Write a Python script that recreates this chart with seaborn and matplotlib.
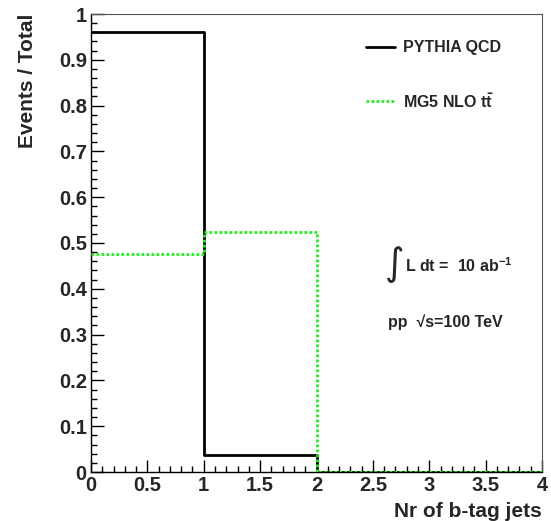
import numpy as np
import pandas as pd
import matplotlib
matplotlib.use("Agg")
import matplotlib.pyplot as plt
from matplotlib.ticker import MultipleLocator
import seaborn as sns

# ---- data ----
bin_edges = [0, 1, 2, 3, 4]
bin_centers = [0.5, 1.5, 2.5, 3.5]
qcd_frac = [0.961, 0.037, 0.0, 0.0]
ttbar_frac = [0.477, 0.523, 0.0, 0.0]
series_names = ["PYTHIA QCD", r"MG5 NLO $t\bar{t}$"]
x_label = "Nr of b-tag jets"
y_label = "Events / Total"

sns.set_style("ticks")
plt.rcParams['font.family'] = ['Liberation Sans', 'DejaVu Sans']
plt.rcParams['font.weight'] = 'bold'
plt.rcParams['mathtext.fontset'] = 'custom'
plt.rcParams['mathtext.rm'] = 'Liberation Sans:bold'
plt.rcParams['mathtext.it'] = 'Liberation Sans:bold'
plt.rcParams['mathtext.bf'] = 'Liberation Sans:bold'

fig = plt.figure(figsize=(5.51, 5.21), dpi=100)
ax = fig.add_axes([91/551, 1-472/521, (542-91)/551, (472-14)/521])

df = pd.DataFrame({"x": bin_centers, "qcd": qcd_frac, "tt": ttbar_frac})
green = "#22ee22"
dots = (0, (1.0, 0.8))
sns.histplot(data=df, x="x", weights="tt", bins=bin_edges, element="step", fill=False,
             color=green, linewidth=2.0, linestyle=dots, ax=ax, zorder=3)
sns.histplot(data=df, x="x", weights="qcd", bins=bin_edges, element="step", fill=False,
             color="black", linewidth=2.0, ax=ax, zorder=2)

ax.set_xlim(0, 4)
ax.set_ylim(0, 1)
ax.xaxis.set_major_locator(MultipleLocator(0.5))
ax.xaxis.set_minor_locator(MultipleLocator(0.1))
ax.yaxis.set_major_locator(MultipleLocator(0.1))
ax.yaxis.set_minor_locator(MultipleLocator(0.02))
ax.xaxis.set_major_formatter(matplotlib.ticker.FuncFormatter(lambda v, p: f"{v:g}"))
ax.yaxis.set_major_formatter(matplotlib.ticker.FuncFormatter(lambda v, p: f"{v:g}"))
ax.tick_params(which="both", direction="in", top=False, right=False, color="black", width=1)
ax.tick_params(which="major", length=9, labelsize=14.5, pad=3)
ax.tick_params(which="minor", length=4.5)
for lab in ax.get_xticklabels() + ax.get_yticklabels():
    lab.set_fontweight("bold")

for s in ["left", "bottom"]:
    ax.spines[s].set_color("black"); ax.spines[s].set_linewidth(1.0)
for s in ["top", "right"]:
    ax.spines[s].set_visible(True); ax.spines[s].set_color("#555555"); ax.spines[s].set_linewidth(0.8)

ax.set_xlabel(x_label, fontsize=15, fontweight="bold", loc="right", labelpad=5)
ax.set_ylabel(y_label, fontsize=15, fontweight="bold", loc="top", labelpad=16)

# legend (manual, ROOT-like)
W, H = 551, 521
def fx(px): return px / W
def fy(py): return 1 - py / H
fig.add_artist(plt.Line2D([fx(366), fx(395)], [fy(47), fy(47)], color="black", lw=2))
fig.text(fx(403), fy(47), series_names[0], fontsize=11.5, fontweight="bold", va="center")
fig.add_artist(plt.Line2D([fx(366), fx(395)], [fy(101), fy(101)], color=green, lw=2,
                          linestyle=dots))
fig.text(fx(403), fy(102), series_names[1], fontsize=11.5, fontweight="bold", va="center")

fig.text(fx(385), fy(265), "\u222b", fontsize=27, family=['DejaVu Sans'], fontweight="normal",
         va="center")
fig.text(fx(405), fy(266), r"L dt =  10 ab$^{-1}$", fontsize=11.5, fontweight="bold", va="center")
fig.text(fx(388), fy(322), "pp  \u221as=100 TeV", fontsize=11.5, fontweight="bold", va="center")

fig.savefig("out.png", dpi=100)
